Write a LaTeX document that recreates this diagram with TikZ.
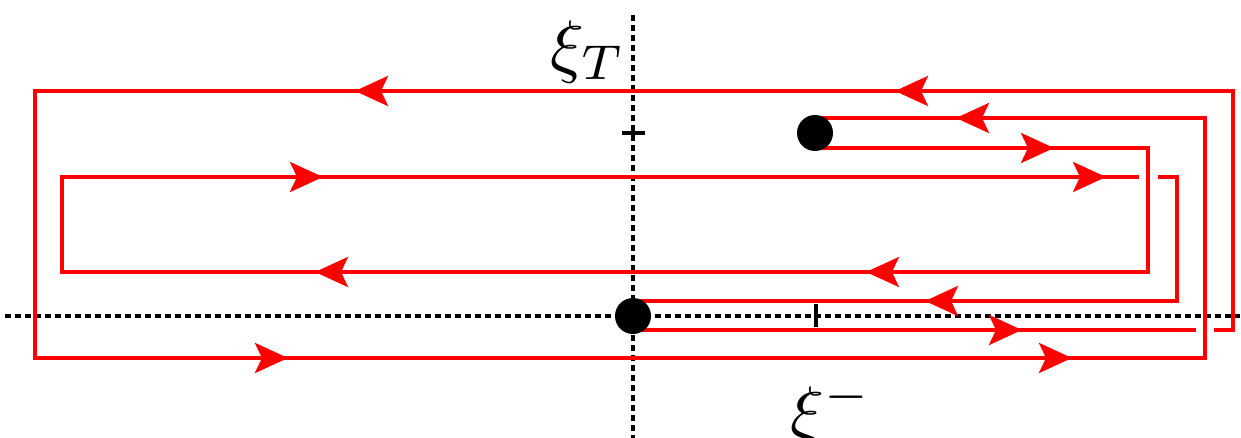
\documentclass[tikz,border=0pt]{standalone}
\usetikzlibrary{arrows.meta}
\begin{document}
\begin{tikzpicture}[x=0.5pt,y=-0.5pt,
  contour/.style={red, line width=2pt, line join=miter},
  axis/.style={black, line width=1.6pt, dash pattern=on 3pt off 2pt},
  tick/.style={black, line width=1.6pt},
  tipr/.style={red, line width=2pt, -{Stealth[length=16.5pt,width=15pt,inset=3.5pt]}},
  dot/.style={circle, fill=black, inner sep=0pt, minimum size=18pt},
  lab/.style={scale=3.5, inner sep=0pt}]
\useasboundingbox (0,0) rectangle (1241,438);
% axes
\coordinate (hl) at (5,316);
\coordinate (hr) at (1240,316);
\coordinate (vt) at (633,15);
\coordinate (vb) at (633,438);
\draw[axis] (hl) -- (hr);
\draw[axis] (vt) -- (vb);
\coordinate (t1a) at (622,133); \coordinate (t1b) at (645,133);
\coordinate (t2a) at (816,304); \coordinate (t2b) at (816,327);
\draw[tick] (t1a) -- (t1b);
\draw[tick] (t2a) -- (t2b);
% contour
\draw[contour] (1214,330) -- (1233,330) -- (1233,91) -- (35,91) -- (35,358) -- (1205,358) -- (1205,118) -- (815,118);
\draw[contour] (815,148) -- (1148,148) -- (1148,272) -- (62,272) -- (62,177) -- (1139,177);
\draw[contour] (1158,177) -- (1177,177) -- (1177,301) -- (633,301);
\draw[contour] (633,330) -- (1196,330);
% arrows pointing left
\foreach \x/\y in {355/91, 895/91, 956/118, 315/272, 866/272, 925/301}
  \draw[tipr] (\x+40,\y) -- (\x,\y);
% arrows pointing right
\foreach \x/\y in {1054/148, 323/177, 1106/177, 1022/330, 288/358, 1072/358}
  \draw[tipr] (\x-40,\y) -- (\x,\y);
% dots
\node[dot] (O) at (633,316) {};
\node[dot] (P) at (815,133) {};
% labels
\node[lab] (xiT) at (588,52) {$\xi_T$};
\node[lab] (xim) at (831,414) {$\xi^-$};
\end{tikzpicture}
\end{document}
